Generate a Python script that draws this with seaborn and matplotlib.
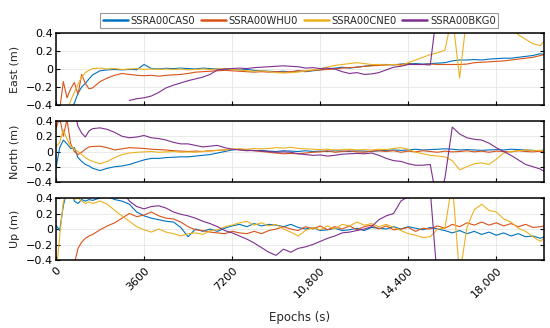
"""
plot.py
───────
East / North / Up positioning errors of four SSR correction streams
(SSRA00CAS0, SSRA00WHU0, SSRA00CNE0, SSRA00BKG0) over ~20,000 s.
"""

import numpy as np
import pandas as pd
import matplotlib
matplotlib.use("Agg")
import matplotlib.pyplot as plt
from matplotlib.lines import Line2D
from matplotlib.ticker import FuncFormatter
import seaborn as sns

nan = np.nan

# ── Epoch grid (s): 150 s spacing for the convergence part, 300 s after ──────
epochs = np.r_[np.arange(0, 1500, 150), np.arange(1500, 19801, 300), 19950]

stations = ["SSRA00CAS0", "SSRA00WHU0", "SSRA00CNE0", "SSRA00BKG0"]
colors = ["#0072BD", "#D95319", "#EDB120", "#7E2F8E"]

# ── East (m) ──────────────────────────────────────────────────────────────────
cas_east = [
    -0.6, -0.6, -0.6, -0.55, -0.45, -0.38, -0.27, -0.2, -0.16, -0.11,
    -0.065, -0.02, -0.01, -0.005, -0.01, -0.005, -0.008, 0.05, 0.005, 0.0,
    0.008, 0.004, 0.01, 0.005, 0.0, 0.01, 0.005, 0.0, -0.005, 0.0,
    -0.01, -0.005, -0.015, -0.02, -0.025, -0.03, -0.025, -0.035, -0.02, -0.03,
    -0.02, -0.01, 0.0, 0.01, 0.02, 0.01, 0.02, 0.03, 0.04, 0.05,
    0.05, 0.045, 0.055, 0.06, 0.06, 0.055, 0.06, 0.065, 0.07, 0.09,
    0.1, 0.1, 0.105, 0.1, 0.11, 0.115, 0.12, 0.12, 0.13, 0.14,
    0.15, 0.17, 0.16,
]
whu_east = [
    -0.6, -0.45, -0.14, -0.32, -0.22, -0.15, -0.28, -0.06, -0.16, -0.22,
    -0.21, -0.14, -0.1, -0.07, -0.05, -0.06, -0.07, -0.075, -0.07, -0.08,
    -0.07, -0.065, -0.06, -0.05, -0.035, -0.03, -0.025, -0.02, -0.015, -0.02,
    -0.025, -0.03, -0.035, -0.03, -0.035, -0.03, -0.035, -0.03, -0.02, -0.025,
    -0.015, -0.01, -0.005, 0.0, 0.01, 0.015, 0.02, 0.03, 0.035, 0.04,
    0.045, 0.05, 0.05, 0.055, 0.05, 0.05, 0.055, 0.05, 0.05, 0.05,
    0.05, 0.055, 0.07, 0.075, 0.08, 0.085, 0.09, 0.1, 0.11, 0.12,
    0.13, 0.15, 0.16,
]
cne_east = [
    -0.6, -0.6, -0.6, -0.5, -0.35, -0.26, -0.17, -0.09, -0.04, -0.015,
    0.005, 0.01, 0.0, 0.005, -0.005, 0.0, 0.005, -0.005, 0.0, -0.005,
    0.0, -0.005, 0.0, -0.01, -0.005, 0.0, -0.005, 0.0, 0.005, -0.005,
    -0.01, -0.02, -0.025, -0.02, -0.03, -0.04, -0.045, -0.04, -0.035, -0.02,
    -0.01, 0.0, 0.02, 0.04, 0.05, 0.06, 0.07, 0.06, 0.05, 0.05,
    0.045, 0.05, 0.04, 0.07, 0.1, 0.13, 0.16, 0.18, 0.21, 0.6,
    -0.1, 0.6, 0.7, 0.7, 0.7, 0.7, 0.7, 0.55, 0.38, 0.33,
    0.28, 0.26, 0.31,
]
bkg_east = [
    nan, nan, nan, nan, nan, nan, nan, nan, nan, nan,
    nan, nan, nan, nan, nan, -0.35, -0.33, -0.32, -0.3, -0.26,
    -0.21, -0.18, -0.155, -0.13, -0.11, -0.09, -0.06, -0.01, 0.0, 0.005,
    0.01, 0.005, 0.015, 0.02, 0.025, 0.03, 0.035, 0.03, 0.025, 0.01,
    0.015, 0.005, 0.01, 0.0, -0.03, -0.05, -0.04, -0.06, -0.055, -0.04,
    -0.01, 0.02, 0.03, 0.05, 0.05, 0.05, 0.045, 0.7, 0.7, 0.7,
    0.7, 0.7, 0.7, 0.7, 0.7, 0.7, 0.7, 0.7, 0.7, 0.7,
    0.7, 0.7, 0.7,
]

# ── North (m) ─────────────────────────────────────────────────────────────────
cas_north = [
    -0.22, 0.05, 0.15, 0.1, 0.04, 0.05, -0.08, -0.13, -0.17, -0.19,
    -0.22, -0.25, -0.22, -0.2, -0.19, -0.17, -0.14, -0.11, -0.09, -0.09,
    -0.08, -0.075, -0.07, -0.07, -0.06, -0.05, -0.04, -0.02, 0.0, 0.02,
    0.03, 0.02, 0.01, 0.015, 0.005, 0.0, 0.01, 0.005, 0.0, 0.01,
    0.0, 0.005, 0.0, 0.01, 0.005, 0.0, 0.01, 0.005, 0.0, 0.01,
    0.015, 0.02, 0.015, 0.02, 0.03, 0.02, 0.025, 0.03, 0.035, 0.03,
    0.02, 0.025, 0.02, 0.015, 0.02, 0.025, 0.02, 0.03, 0.025, 0.02,
    0.015, 0.01, 0.02,
]
whu_north = [
    0.3, 0.45, 0.2, 0.42, 0.1, 0.0, -0.04, -0.01, 0.03, 0.06,
    0.065, 0.07, 0.05, 0.02, 0.035, 0.05, 0.045, 0.04, 0.03, 0.025,
    0.02, 0.01, 0.005, 0.0, 0.005, 0.0, 0.01, 0.015, 0.02, 0.03,
    0.025, 0.02, 0.01, 0.0, -0.01, -0.02, -0.03, -0.025, -0.03, -0.02,
    -0.01, -0.005, 0.01, -0.01, 0.0, 0.01, -0.005, -0.01, 0.005, 0.01,
    0.0, 0.01, -0.01, 0.005, -0.005, 0.01, 0.0, -0.01, 0.005, -0.005,
    0.0, 0.01, -0.005, 0.005, -0.01, 0.005, 0.0, -0.005, 0.01, 0.0,
    -0.005, 0.005, 0.0,
]
cne_north = [
    0.06, 0.12, 0.28, 0.16, 0.07, 0.03, 0.0, -0.04, -0.08, -0.11,
    -0.13, -0.16, -0.13, -0.08, -0.04, -0.02, -0.01, -0.005, 0.0, -0.01,
    -0.005, 0.0, -0.01, -0.005, -0.01, 0.0, 0.005, 0.015, 0.02, 0.03,
    0.035, 0.03, 0.04, 0.035, 0.04, 0.05, 0.045, 0.055, 0.04, 0.035,
    0.03, 0.025, 0.03, 0.02, 0.025, 0.03, 0.02, 0.025, 0.02, 0.03,
    0.025, 0.04, 0.05, 0.03, -0.01, -0.03, -0.05, -0.06, -0.07, -0.12,
    -0.24, -0.2, -0.16, -0.15, -0.17, -0.1, -0.02, 0.0, 0.01, 0.02,
    0.01, 0.015, 0.01,
]
bkg_north = [
    0.6, 0.6, 0.6, 0.6, 0.6, 0.55, 0.33, 0.24, 0.19, 0.27,
    0.3, 0.31, 0.29, 0.25, 0.2, 0.18, 0.19, 0.21, 0.18, 0.17,
    0.15, 0.12, 0.1, 0.1, 0.08, 0.06, 0.07, 0.08, 0.05, 0.03,
    0.02, 0.01, 0.015, 0.005, 0.0, -0.01, -0.005, -0.01, -0.03, -0.04,
    -0.05, -0.045, -0.06, -0.05, -0.035, -0.03, -0.025, -0.03, -0.02, -0.05,
    -0.09, -0.12, -0.13, -0.16, -0.18, -0.18, -0.17, -0.7, -0.35, 0.32,
    0.23, 0.18, 0.16, 0.15, 0.11, 0.05, 0.0, -0.05, -0.11, -0.17,
    -0.2, -0.23, -0.26,
]

# ── Up (m) ────────────────────────────────────────────────────────────────────
cas_up = [
    0.05, -0.02, 0.3, 0.5, 0.5, 0.36, 0.33, 0.38, 0.36, 0.38,
    0.37, 0.4, 0.42, 0.38, 0.36, 0.32, 0.22, 0.17, 0.14, 0.12,
    0.1, 0.09, 0.02, -0.1, 0.0, -0.03, 0.0, -0.03, 0.01, 0.04,
    0.06, 0.03, 0.07, 0.04, 0.06, 0.05, 0.03, 0.06, 0.02, 0.0,
    0.02, -0.02, -0.01, 0.01, -0.02, -0.01, 0.01, -0.02, 0.02, 0.01,
    0.0, 0.03, 0.0, 0.03, 0.01, -0.01, 0.02, 0.0, -0.02, -0.05,
    -0.02, -0.06, -0.03, -0.07, -0.04, -0.08, -0.05, -0.09, -0.06, -0.1,
    -0.09, -0.12, -0.1,
]
whu_up = [
    -0.6, -0.6, -0.6, -0.6, -0.6, -0.45, -0.25, -0.17, -0.12, -0.09,
    -0.07, -0.01, 0.04, 0.08, 0.14, 0.2, 0.16, 0.18, 0.22, 0.17,
    0.14, 0.13, 0.09, 0.03, -0.01, -0.02, -0.04, -0.05, -0.06, -0.03,
    -0.05, -0.06, -0.03, -0.06, -0.02, 0.0, 0.03, 0.0, -0.02, 0.03,
    0.0, 0.04, -0.01, 0.03, 0.0, 0.04, -0.01, 0.03, 0.05, 0.0,
    0.04, -0.01, 0.0, 0.02, -0.03, 0.01, 0.0, 0.04, 0.01, 0.06,
    0.03, 0.08, 0.05, 0.09, 0.05, 0.08, 0.04, 0.07, 0.03, 0.06,
    0.02, 0.03, 0.04,
]
cne_up = [
    -0.6, -0.1, 0.35, 0.5, 0.45, 0.38, 0.4, 0.36, 0.33, 0.35,
    0.33, 0.36, 0.32, 0.24, 0.17, 0.1, 0.03, -0.01, -0.04, 0.0,
    -0.04, -0.06, -0.09, -0.06, -0.05, -0.07, -0.02, -0.01, 0.03, 0.05,
    0.08, 0.1, 0.05, 0.08, 0.04, 0.06, 0.0, -0.04, -0.09, -0.02,
    0.02, -0.01, 0.04, 0.0, 0.06, 0.04, 0.09, 0.05, 0.07, 0.03,
    0.06, 0.02, -0.02, -0.06, -0.08, -0.11, -0.1, 0.0, 0.01, 0.6,
    -0.6, 0.02, 0.25, 0.32, 0.24, 0.22, 0.13, 0.09, 0.01, -0.03,
    -0.1, -0.16, -0.12,
]
bkg_up = [
    nan, nan, nan, nan, nan, nan, nan, nan, nan, nan,
    nan, nan, nan, nan, 0.5, 0.36, 0.29, 0.26, 0.29, 0.3,
    0.27, 0.22, 0.19, 0.17, 0.14, 0.1, 0.07, 0.03, -0.02, -0.05,
    -0.09, -0.13, -0.18, -0.24, -0.3, -0.34, -0.26, -0.3, -0.25, -0.23,
    -0.2, -0.16, -0.12, -0.09, -0.05, -0.04, -0.02, 0.0, 0.03, 0.12,
    0.17, 0.2, 0.36, 0.42, 0.5, 0.5, 0.5, -0.7, -0.7, -0.7,
    -0.7, -0.7, -0.7, -0.7, -0.7, -0.7, -0.7, -0.7, -0.7, -0.7,
    -0.7, -0.7, -0.7,
]

# ── Axis settings ─────────────────────────────────────────────────────────────
x_ticks = [0, 3600, 7200, 10800, 14400, 18000]
x_tick_labels = ["0", "3600", "7200", "10,800", "14,400", "18,000"]
y_ticks = [-0.4, -0.2, 0.0, 0.2, 0.4]

panels = [
    ("East (m)",  [cas_east, whu_east, cne_east, bkg_east]),
    ("North (m)", [cas_north, whu_north, cne_north, bkg_north]),
    ("Up (m)",    [cas_up, whu_up, cne_up, bkg_up]),
]

# ── Style ─────────────────────────────────────────────────────────────────────
sns.set_theme(style="ticks")
plt.rcParams["font.family"] = ["DejaVu Sans"]
plt.rcParams["axes.unicode_minus"] = True

palette = dict(zip(stations, colors))

fig = plt.figure(figsize=(5.5, 3.28), dpi=100)
# [left, bottom, width, height]
boxes = [
    [0.1018, 0.6799, 0.8873, 0.2195],
    [0.1018, 0.4451, 0.8873, 0.1860],
    [0.1018, 0.2073, 0.8873, 0.1890],
]

fmt_y = FuncFormatter(
    lambda v, _: "0" if abs(v) < 1e-9 else f"{v:.1f}".replace("-", "\u2212")
)

axes = []
for (ylabel, series), box in zip(panels, boxes):
    ax = fig.add_axes(box)
    df = pd.DataFrame(
        {
            "epoch": np.tile(epochs, len(stations)),
            "value": np.concatenate([np.asarray(s, dtype=float) for s in series]),
            "station": np.repeat(stations, len(epochs)),
        }
    )
    sns.lineplot(
        data=df, x="epoch", y="value", hue="station", hue_order=stations,
        palette=palette, linewidth=0.8, estimator=None, legend=False, ax=ax,
    )
    ax.set_xlim(0, 19950)
    ax.set_ylim(-0.4, 0.4)
    ax.set_xticks(x_ticks)
    ax.set_yticks(y_ticks)
    ax.yaxis.set_major_formatter(fmt_y)
    ax.grid(True, color="#e6e6e6", linewidth=0.6)
    ax.tick_params(
        direction="in", length=3, width=0.8, labelsize=8, colors="black",
        left=True, right=True, bottom=True, top=False, pad=2,
    )
    for spine in ax.spines.values():
        spine.set_visible(True)
        spine.set_color("black")
        spine.set_linewidth(1.1)
    ax.set_ylabel(ylabel, fontsize=8)
    ax.yaxis.set_label_coords(-0.074, 0.5)
    ax.set_xlabel("")
    axes.append(ax)

for ax in axes[:-1]:
    ax.set_xticklabels([])

ax = axes[-1]
ax.set_xticklabels(x_tick_labels, rotation=45, ha="right", va="top",
                   rotation_mode="anchor", fontsize=8)
ax.tick_params(axis="x", pad=4)
ax.set_xlabel("Epochs (s)", fontsize=8.5)
ax.xaxis.set_label_coords(0.5, -0.82)

# ── Legend across the top ─────────────────────────────────────────────────────
handles = [Line2D([0], [0], color=c, lw=1.8) for c in colors]
leg = fig.legend(
    handles, stations, loc="upper center", bbox_to_anchor=(0.544, 0.975),
    ncol=4, fontsize=7.2, frameon=True, fancybox=False, framealpha=1,
    edgecolor="#9a9a9a", borderpad=0.25, handlelength=2.5,
    handletextpad=0.25, columnspacing=0.6,
)
leg.get_frame().set_linewidth(0.8)

fig.savefig("out.png", dpi=100, facecolor="white")
